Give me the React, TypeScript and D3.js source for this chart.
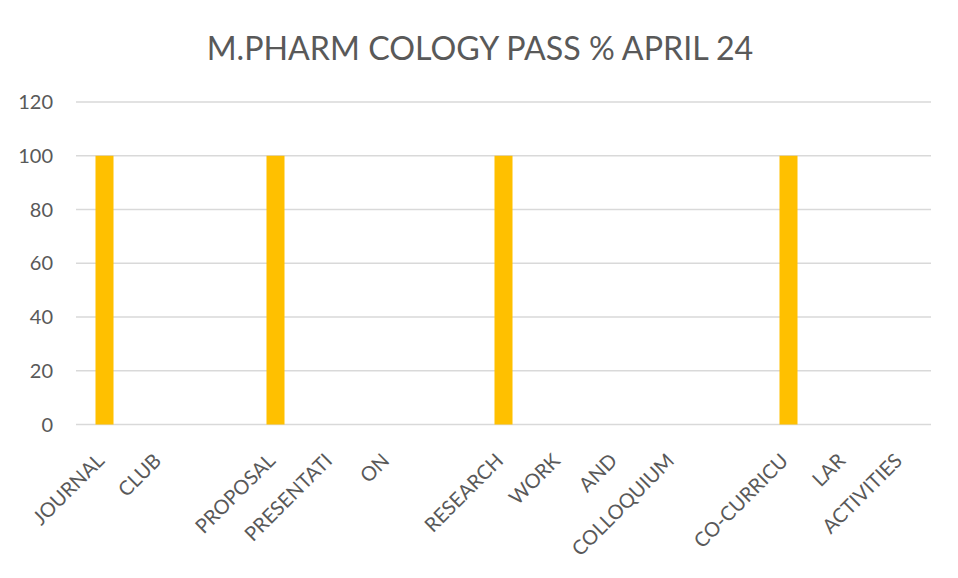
import React, { useRef, useEffect } from 'react';
import * as d3 from 'd3';

// categories as they sit on the axis (long names wrap over neighbouring slots)
const categories = [
  'JOURNAL', 'CLUB', '', 'PROPOSAL', 'PRESENTATI', 'ON', '',
  'RESEARCH', 'WORK', 'AND', 'COLLOQUIUM', '', 'CO-CURRICU', 'LAR', 'ACTIVITIES',
];
const passPct = [100, null, null, 100, null, null, null, 100, null, null, null, null, 100, null, null];
const yTicks = [0, 20, 40, 60, 80, 100, 120];
const title = 'M.PHARM COLOGY PASS % APRIL 24';

export default function App() {
  const svgRef = useRef<SVGSVGElement>(null);

  useEffect(() => {
    const w = 958;
    const h = 578;
    const font = 'Lato, "Open Sans", sans-serif';
    const svg = d3.select(svgRef.current)
      .attr('width', w)
      .attr('height', h)
      .style('display', 'block');
    svg.selectAll('*').remove();

    // chart frame
    svg.append('rect')
      .attr('x', 2).attr('y', 3)
      .attr('width', w + 10).attr('height', h + 10)
      .attr('fill', '#fff')
      .attr('stroke', '#d9d9d9')
      .attr('stroke-width', 1.3);

    svg.append('text')
      .attr('x', 480)
      .attr('y', 60)
      .attr('text-anchor', 'middle')
      .attr('font-family', font)
      .attr('font-size', 32.2)
      .attr('fill', '#595959')
      .text(title);

    // scales
    const x = d3.scaleBand<number>()
      .domain(d3.range(categories.length))
      .range([76, 931])
      .paddingInner(0.684)
      .paddingOuter(0.342);

    const y = d3.scaleLinear()
      .domain([0, 120])
      .range([424.5, 102]);

    // gridlines
    svg.append('g')
      .selectAll('line')
      .data(yTicks)
      .join('line')
      .attr('x1', 76)
      .attr('x2', 931)
      .attr('y1', d => y(d))
      .attr('y2', d => y(d))
      .attr('stroke', '#d9d9d9')
      .attr('stroke-width', 1.3);

    // y tick labels
    svg.append('g')
      .selectAll('text')
      .data(yTicks)
      .join('text')
      .attr('x', 53)
      .attr('y', d => y(d))
      .attr('dy', '0.35em')
      .attr('text-anchor', 'end')
      .attr('font-family', font)
      .attr('font-size', 20)
      .attr('fill', '#595959')
      .text(d => d);

    // bars
    svg.append('g')
      .selectAll('rect')
      .data(passPct.map((v, i) => ({ v, i })).filter(d => d.v != null))
      .join('rect')
      .attr('x', d => x(d.i)!)
      .attr('width', x.bandwidth())
      .attr('y', d => y(d.v as number))
      .attr('height', d => y(0) - y(d.v as number))
      .attr('fill', '#ffc000');

    // category labels, rotated
    svg.append('g')
      .selectAll('text')
      .data(categories)
      .join('text')
      .attr('transform', (d, i) => `translate(${x(i)! + x.bandwidth() / 2 + 1}, 462) rotate(-45)`)
      .attr('text-anchor', 'end')
      .attr('font-family', font)
      .attr('font-size', 20)
      .attr('fill', '#595959')
      .text(d => d);
  }, []);

  return (
    <div style={{ margin: -8 }}>
      <svg ref={svgRef}></svg>
    </div>
  );
}
